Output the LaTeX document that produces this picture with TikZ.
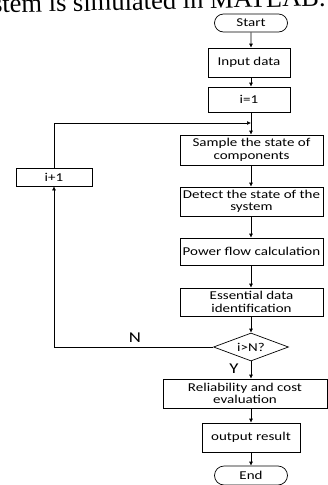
\documentclass[tikz,border=0pt]{standalone}
\usepackage{fontspec}
\setmainfont{Carlito}
\newfontfamily\boxfont[FakeStretch=1.25]{Carlito}
\newfontfamily\capfont{Liberation Serif}
\usetikzlibrary{positioning,shapes.geometric,shapes.misc,arrows.meta}

\begin{document}
\begin{tikzpicture}[x=1pt,y=-1pt,->,>={Latex[length=4pt,width=4pt]},line width=0.7pt,
    box/.style={draw,rectangle,align=center,inner sep=1pt,
      font=\boxfont\fontsize{12}{12.5}\selectfont},
    term/.style={box,rounded rectangle,minimum width=75pt,minimum height=18pt},
    test/.style={box,diamond,aspect=2.7,minimum width=75pt,minimum height=28pt,inner sep=0pt},
    branchlabel/.style={font=\boxfont\fontsize{15}{15}\selectfont,inner sep=0pt}]
  \useasboundingbox (0,0) rectangle (328,485);
  \clip (0,0) rectangle (328,485);
  % \draw[help lines] (0,0) grid (328,485);
  \node[anchor=base east,inner sep=0pt,rotate=1.2,font=\capfont\fontsize{26.5}{28}\selectfont]
    (cap) at (326,6) {stem is simulated in MATLAB.};

  \node[term] (start) at (251,23) {Start};
  \node[box,minimum width=82pt,minimum height=29pt] (input) at (249,62.5) {Input data};
  \node[box,minimum width=82pt,minimum height=25pt] (init) at (249,99.5) {i=1};
  \node[box,minimum width=143pt,minimum height=30pt] (sample) at (251.5,150)
    {Sample the state of\\components};
  \node[box,minimum width=143pt,minimum height=29pt] (detect) at (251.5,201.5)
    {Detect the state of the\\system};
  \node[box,minimum width=143pt,minimum height=27pt] (flow) at (251.5,251.5)
    {Power flow calculation};
  \node[box,minimum width=143pt,minimum height=28pt] (ident) at (251.5,302)
    {Essential data\\identification};
  \node[test] (check) at (251,347) {i>N?};
  \node[box,minimum width=164pt,minimum height=29pt] (eval) at (245,393.5)
    {Reliability and cost\\evaluation};
  \node[box,minimum width=98pt,minimum height=29pt] (out) at (251,437.5) {output result};
  \node[term,minimum height=19pt] (stop) at (251,475.5) {End};
  \node[box,minimum width=76pt,minimum height=18pt] (incr) at (54,177) {i+1};

  \coordinate (join) at (251,123);
  \node[branchlabel] (no) at (135,337.5) {N};
  \node[branchlabel] (yes) at (234,368.5) {Y};

  % main chain
  \draw (start) -- (start |- input.north);
  \draw (start |- input.south) -- (start |- init.north);
  \draw[-] (start |- init.south) -- (join);
  \draw (join) -- (join |- sample.north);
  \draw (join |- sample.south) -- (join |- detect.north);
  \draw (join |- detect.south) -- (join |- flow.north);
  \draw (join |- flow.south) -- (join |- ident.north);
  \draw (join |- ident.south) -- (check.north);
  \draw (check.south) -- (check.south |- eval.north);
  \draw (check.south |- eval.south) -- (out.north);
  \draw (out.south) -- (stop.north);

  % loop back
  \draw (check.west) -| (incr.south);
  \draw (incr.north) |- (join);
\end{tikzpicture}
\end{document}
